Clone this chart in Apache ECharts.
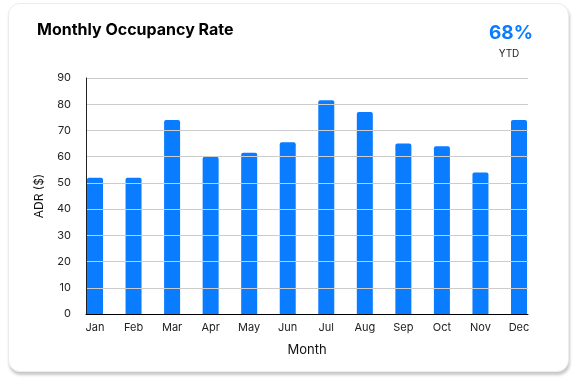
<!DOCTYPE html>
<html>
<head>
<meta charset="utf-8">
<script src="https://cdn.jsdelivr.net/npm/echarts@6/dist/echarts.min.js"></script>
<style>
  html, body { margin: 0; padding: 0; background: #fff; }
  #card { position: absolute; left: 8px; top: 3px; width: 559px; height: 367px;
          border-radius: 12px; background: #fff; border: 1px solid #ececec;
          box-shadow: 1px 3px 3px rgba(0,0,0,0.22); }
  #chart { position: absolute; left: 0; top: 0; width: 578px; height: 389px; }
</style>
</head>
<body>
<div id="card"></div>
<div id="chart"></div>
<script>
const months = ['Jan','Feb','Mar','Apr','May','Jun','Jul','Aug','Sep','Oct','Nov','Dec'];
const adrValues = [52, 52, 74, 60, 61.5, 65.5, 81.5, 77, 65, 64, 54, 74];
const yMin = 0, yMax = 90, yStep = 10;
const titleText = 'Monthly Occupancy Rate';
const kpiText = '68%';
const kpiLabel = 'YTD';
const xName = 'Month';
const yName = 'ADR ($)';

const FONT = 'Inter, "Noto Sans", sans-serif';
const chart = echarts.init(document.getElementById('chart'), null, { renderer: 'canvas' });
chart.setOption({
  animation: false,
  backgroundColor: 'transparent',
  textStyle: { fontFamily: FONT },
  title: [
    { text: titleText, left: 37, top: 22, padding: 0,
      textStyle: { fontSize: 16, fontWeight: 700, color: '#000', fontFamily: FONT } },
    { text: kpiText, left: 511, top: 24, padding: 0, textAlign: 'center',
      textStyle: { fontSize: 19, fontWeight: 700, color: '#0A7CFF', fontFamily: FONT } },
    { text: kpiLabel, left: 509, top: 49, padding: 0, textAlign: 'center',
      textStyle: { fontSize: 10, fontWeight: 400, color: '#222', fontFamily: FONT } }
  ],
  grid: [
    { left: 86, right: 50, top: 78, bottom: 75 },
    { left: 95, right: 59, top: 78, bottom: 75 }
  ],
  xAxis: [
    { gridIndex: 0, type: 'category', data: months, z: 5,
      axisLine: { lineStyle: { color: '#000', width: 1 } },
      axisTick: { show: false }, axisLabel: { show: false },
      name: xName, nameLocation: 'middle', nameGap: 30,
      nameTextStyle: { fontSize: 13, color: '#111', fontFamily: FONT } },
    { gridIndex: 1, type: 'category', data: months, boundaryGap: false,
      axisLine: { show: false }, axisTick: { show: false },
      axisLabel: { interval: 0, margin: 8, fontSize: 11, color: '#222', fontFamily: FONT } }
  ],
  yAxis: [
    { gridIndex: 0, type: 'value', min: yMin, max: yMax, interval: yStep, z: 5,
      axisLine: { show: true, lineStyle: { color: '#222', width: 1 } },
      axisTick: { show: false },
      splitLine: { lineStyle: { color: '#cccccc', width: 1 } },
      axisLabel: { margin: 15, fontSize: 11, color: '#222', fontFamily: FONT },
      name: yName, nameLocation: 'middle', nameGap: 41, nameRotate: 90,
      nameTextStyle: { fontSize: 12, color: '#111', fontFamily: FONT } },
    { gridIndex: 1, type: 'value', min: yMin, max: yMax, interval: yStep, show: false }
  ],
  series: [{
    type: 'bar', xAxisIndex: 1, yAxisIndex: 1, data: adrValues, barWidth: 16,
    itemStyle: { color: '#0A7CFF', borderRadius: [2, 2, 0, 0] }
  }]
});
</script>
</body>
</html>
